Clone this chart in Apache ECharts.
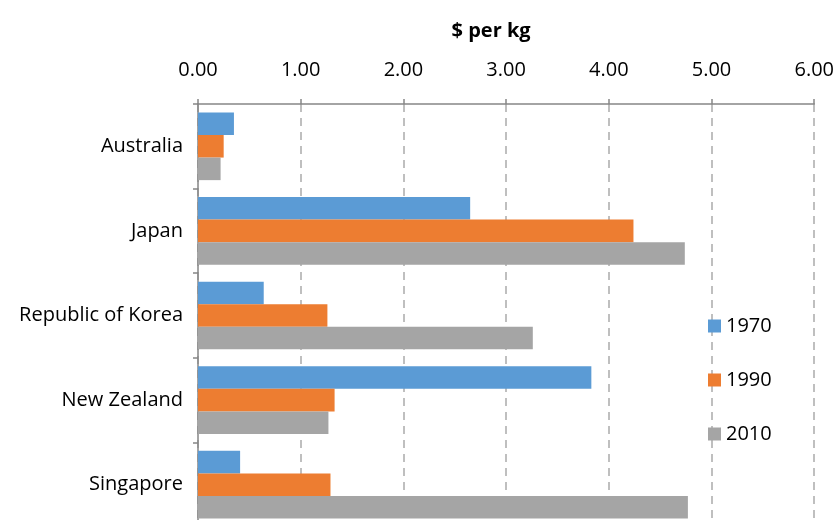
<!DOCTYPE html>
<html>
<head>
<meta charset="utf-8">
<script src="https://cdn.jsdelivr.net/npm/echarts@6/dist/echarts.min.js"></script>
<style>
html,body{margin:0;padding:0;width:837px;height:520px;overflow:hidden;background:#fff;}
#chart{width:837px;height:527px;}
</style>
</head>
<body>
<div id="chart"></div>
<script>
const categories = ["Australia", "Japan", "Republic of Korea", "New Zealand", "Singapore"];
const seriesNames = ["1970", "1990", "2010"];
const values1970 = [0.35, 2.65, 0.64, 3.83, 0.41];
const values1990 = [0.25, 4.24, 1.26, 1.33, 1.29];
const values2010 = [0.22, 4.74, 3.26, 1.27, 4.77];
const tickValues = [0, 1, 2, 3, 4, 5, 6];
const colors = ["#5B9BD5", "#ED7D31", "#A5A5A5"];

const font = "'Open Sans', sans-serif";
const chart = echarts.init(document.getElementById('chart'), null, {renderer: 'canvas'});
const data = [values1970, values1990, values2010];
chart.setOption({
  animation: false,
  textStyle: {fontFamily: font},
  grid: {left: 198, right: 18, top: 104, bottom: 0, containLabel: false},
  legend: {
    orient: 'vertical',
    left: 703,
    top: 311,
    itemWidth: 13,
    itemHeight: 13,
    itemGap: 34,
    itemStyle: {borderWidth: 0},
    icon: 'rect',
    data: seriesNames,
    textStyle: {fontSize: 20, color: '#000', fontFamily: font}
  },
  xAxis: {
    type: 'value',
    position: 'top',
    min: tickValues[0],
    max: tickValues[tickValues.length - 1],
    interval: 1,
    name: '$ per kg',
    nameLocation: 'middle',
    nameGap: 63,
    nameTextStyle: {fontWeight: 'bold', fontSize: 20, color: '#000', fontFamily: font, padding: [0, 30, 0, 0]},
    axisLine: {show: true, lineStyle: {color: '#868686', width: 1.5}},
    axisTick: {show: true, inside: false, length: 5, lineStyle: {color: '#868686', width: 1.5}},
    axisLabel: {formatter: v => v.toFixed(2), fontSize: 20, color: '#000', margin: 24, fontFamily: font},
    splitLine: {show: true, lineStyle: {color: '#BFBFBF', type: [8, 6], width: 2}}
  },
  yAxis: {
    type: 'category',
    inverse: true,
    data: categories,
    axisLine: {show: true, lineStyle: {color: '#868686', width: 1.5}},
    axisTick: {show: true, length: 5, lineStyle: {color: '#868686', width: 1.5}},
    axisLabel: {fontSize: 20, color: '#000', margin: 15, fontFamily: font}
  },
  series: seriesNames.map((n, i) => ({
    name: n,
    type: 'bar',
    data: data[i],
    barGap: '0%',
    barCategoryGap: '20%',
    itemStyle: {color: colors[i]}
  }))
});
</script>
</body>
</html>
